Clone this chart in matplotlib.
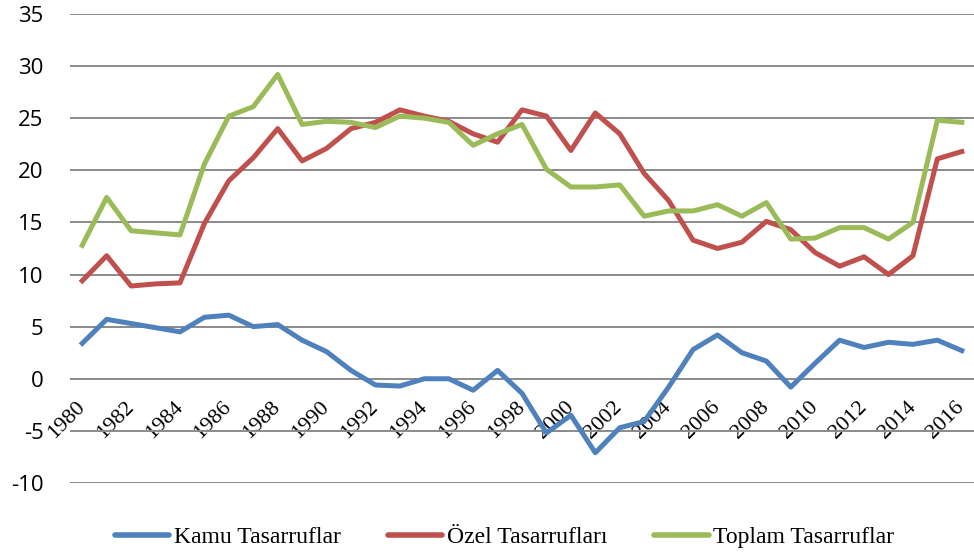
import matplotlib
matplotlib.use("Agg")
from matplotlib import pyplot as plt

years = list(range(1980, 2017))
kamu = [3.4, 5.7, 5.3, 4.9, 4.5, 5.9, 6.1, 5.0, 5.2, 3.7,
        2.6, 0.8, -0.6, -0.7, 0.0, 0.0, -1.1, 0.8, -1.4, -5.2,
        -3.5, -7.1, -4.7, -4.1, -0.8, 2.8, 4.2, 2.5, 1.7, -0.8,
        1.5, 3.7, 3.0, 3.5, 3.3, 3.7, 2.7]
ozel = [9.4, 11.8, 8.9, 9.1, 9.2, 14.9, 19.0, 21.2, 24.0, 20.9,
        22.1, 24.0, 24.6, 25.8, 25.2, 24.7, 23.5, 22.7, 25.8, 25.2,
        21.9, 25.5, 23.5, 19.7, 17.1, 13.3, 12.5, 13.1, 15.1, 14.3,
        12.1, 10.8, 11.7, 10.0, 11.8, 21.1, 21.8]
toplam = [12.8, 17.4, 14.2, 14.0, 13.8, 20.6, 25.2, 26.1, 29.2, 24.4,
          24.7, 24.6, 24.1, 25.2, 25.0, 24.6, 22.4, 23.5, 24.4, 20.1,
          18.4, 18.4, 18.6, 15.6, 16.1, 16.1, 16.7, 15.6, 16.9, 13.4,
          13.5, 14.5, 14.5, 13.4, 15.0, 24.8, 24.6]
yticks = list(range(-10, 36, 5))
labels = ["Kamu Tasarruflar", "Özel Tasarrufları", "Toplam Tasarruflar"]
colors = ["#4F81BD", "#C0504D", "#9BBB59"]

fig = plt.figure(figsize=(9.74, 5.54), dpi=100)
ax = fig.add_axes([0.0719, 0.1282, 0.9281, 0.8466])

x = list(range(len(years)))
lines = []
for ys, lab, c in zip([kamu, ozel, toplam], labels, colors):
    lines += ax.plot(x, ys, color=c, lw=3.6, label=lab)

ax.set_xlim(-0.5, len(years) - 0.5)
ax.set_ylim(-10, 35)
ax.set_yticks(yticks)
ax.set_yticklabels([str(v) for v in yticks], fontfamily="Open Sans", fontsize=16)
ax.yaxis.grid(True, color="#8a8a8a", lw=1.4)
ax.set_axisbelow(True)
for s in ax.spines.values():
    s.set_visible(False)
ax.spines["bottom"].set_position(("data", 0))
ax.tick_params(axis="y", length=0, pad=19)

ax.set_xticks(x[::2])
ax.tick_params(axis="x", length=0, pad=18.5)
ax.set_xticklabels([str(y) for y in years[::2]], rotation=45, ha="right",
                   va="center", rotation_mode="anchor",
                   fontfamily="Liberation Serif", fontsize=16)

leg = fig.legend(handles=lines, loc="center", bbox_to_anchor=(0.518, 0.030), ncol=3,
                 frameon=False, prop={"family": "Liberation Serif", "size": 17},
                 handlelength=2.3, handletextpad=0.2, columnspacing=2.0)
for h in leg.get_lines():
    h.set_linewidth(4)
    h.set_solid_capstyle("round")

fig.savefig("out.png", dpi=100)
